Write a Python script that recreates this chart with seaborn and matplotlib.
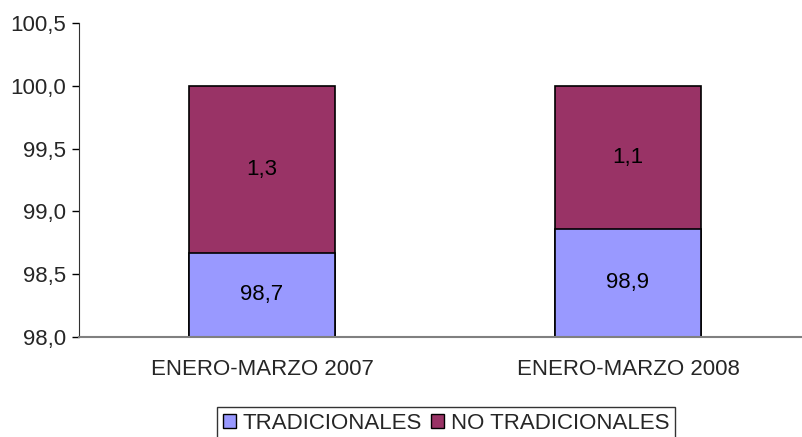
import matplotlib
matplotlib.use('Agg')
import matplotlib.pyplot as plt
import seaborn as sns
import pandas as pd
from matplotlib.patches import Patch
from matplotlib.ticker import FuncFormatter, FixedLocator

sns.set_style('white')
plt.rcParams['font.family'] = ['Liberation Sans', 'DejaVu Sans']
plt.rcParams['axes.unicode_minus'] = False

periodos = ['ENERO-MARZO 2007', 'ENERO-MARZO 2008']
tradicionales = [98.67, 98.86]
no_tradicionales = [1.33, 1.14]
etiquetas_trad = ['98,7', '98,9']
etiquetas_no_trad = ['1,3', '1,1']

COLOR_TRAD = '#9999FF'
COLOR_NO_TRAD = '#993366'
FS = 16

df = pd.DataFrame({'periodo': periodos,
                   'trad': tradicionales,
                   'no_trad': no_tradicionales})
df['total'] = df['trad'] + df['no_trad']

fig = plt.figure(figsize=(8.03, 4.37), dpi=100)
ax = fig.add_axes([79 / 803, 100 / 437, 732 / 803, 314 / 437])

# apilado: primero el total, luego tradicionales encima
sns.barplot(data=df, x='periodo', y='total', color=COLOR_NO_TRAD, width=0.4,
            edgecolor='black', linewidth=1.2, saturation=1, ax=ax)
sns.barplot(data=df, x='periodo', y='trad', color=COLOR_TRAD, width=0.4,
            edgecolor='black', linewidth=1.2, saturation=1, ax=ax)

for i, row in df.iterrows():
    ax.text(i, (98.0 + row['trad']) / 2, etiquetas_trad[i], ha='center', va='center',
            fontsize=FS, color='black')
    ax.text(i, row['trad'] + row['no_trad'] / 2, etiquetas_no_trad[i], ha='center',
            va='center', fontsize=FS, color='black')

ax.set_ylim(98.0, 100.5)
ax.set_xlim(-0.5, 1.5)
ax.set_yticks([98.0, 98.5, 99.0, 99.5, 100.0, 100.5])
ax.yaxis.set_major_formatter(FuncFormatter(lambda v, p: f'{v:.1f}'.replace('.', ',')))
ax.set_xlabel('')
ax.set_ylabel('')

ax.xaxis.set_minor_locator(FixedLocator([0.5]))
ax.tick_params(axis='x', which='major', length=0, pad=16, labelsize=FS)
ax.tick_params(axis='x', which='minor', length=5, width=1, color='black', direction='out')
ax.tick_params(axis='y', length=5, width=1, color='black', direction='out',
               left=True, labelsize=FS, pad=4)

for s in ['top', 'right']:
    ax.spines[s].set_visible(False)
ax.spines['left'].set_color('#303030')
ax.spines['bottom'].set_color('#808080')
ax.spines['bottom'].set_linewidth(1.5)

handles = [Patch(facecolor=COLOR_TRAD, edgecolor='black', label='TRADICIONALES'),
           Patch(facecolor=COLOR_NO_TRAD, edgecolor='black', label='NO TRADICIONALES')]
leg = fig.legend(handles=handles, ncol=2, loc='upper center', bbox_to_anchor=(446 / 803, 30 / 437),
                 fontsize=FS, frameon=True, fancybox=False, handlelength=0.6,
                 handleheight=0.6, handletextpad=0.3, columnspacing=0.4,
                 borderpad=0.25, borderaxespad=0)
leg.get_frame().set_edgecolor('black')
leg.get_frame().set_linewidth(1)

fig.savefig('out.png', dpi=100)
